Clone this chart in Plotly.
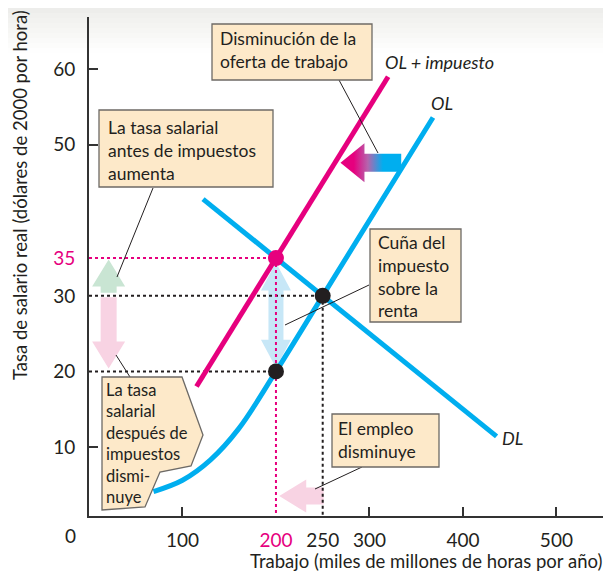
import plotly.graph_objects as go

# ---------------- data ----------------
dl_x = [122, 436]
dl_y = [42.8, 11.4]

ol_x = [69, 100, 130, 160, 200, 250, 368]
ol_y = [4.1, 5.6, 8.3, 12.4, 20, 30, 53.6]

olt_x = [115, 320]
olt_y = [18.0, 59.0]

eq_tax_x, eq_tax_y = 200, 35      # precio con impuesto
eq_x, eq_y = 250, 30              # equilibrio inicial
after_x, after_y = 200, 20        # salario después de impuestos

x_tickvals = [100, 200, 250, 300, 400, 500]
x_ticktext = ["100", "<span style='color:#e6007e'>200</span>", "250", "300", "400", "500"]
y_tickvals = [10, 20, 30, 35, 50, 60]
y_ticktext = ["10", "20", "30", "<span style='color:#e6007e'>35</span>", "50", "60"]
x_minor_ticks = [100, 300, 400, 500]
y_minor_ticks = [10, 50, 60]

# ---------------- geometry helpers (screen pixels) ----------------
OFF = 8                      # page body margin
SW, SH = 611, 574
L, R, T, B = 89, 605, 17, 516
W, H = SW - OFF, SH - OFF
XMIN, XMAX = 0, 552
YMIN, YMAX = 0.87, 66.9

def dx(px):
    return XMIN + (px - L) / (R - L) * (XMAX - XMIN)

def dy(py):
    return YMIN + (B - py) / (B - T) * (YMAX - YMIN)

def tpx(x):
    return L + (x - XMIN) / (XMAX - XMIN) * (R - L)

def tpy(y):
    return B - (y - YMIN) / (YMAX - YMIN) * (B - T)

def paperx(px):
    return (px - L) / (R - L)

def papery(py):
    return (B - py) / (B - T)

CYAN = "#00aeef"
MAG = "#e6007e"
INK = "#231f20"
BOX = "#fde9c9"
BORDER = "#6d6a66"
FONT = "Lato"

def fat_arrow(x0, y0, x1, y1, shaft, headw, headlen, double=False):
    ax, ay = tpx(x0), tpy(y0)
    bx, by = tpx(x1), tpy(y1)
    vx, vy = bx - ax, by - ay
    ln = (vx ** 2 + vy ** 2) ** 0.5
    ux, uy = vx / ln, vy / ln
    nx, ny = -uy, ux
    s, h = shaft / 2, headw / 2
    hb = (bx - ux * headlen, by - uy * headlen)
    if double:
        ha = (ax + ux * headlen, ay + uy * headlen)
        pts = [
            (ax, ay),
            (ha[0] + nx * h, ha[1] + ny * h),
            (ha[0] + nx * s, ha[1] + ny * s),
            (hb[0] + nx * s, hb[1] + ny * s),
            (hb[0] + nx * h, hb[1] + ny * h),
            (bx, by),
            (hb[0] - nx * h, hb[1] - ny * h),
            (hb[0] - nx * s, hb[1] - ny * s),
            (ha[0] - nx * s, ha[1] - ny * s),
            (ha[0] - nx * h, ha[1] - ny * h),
            (ax, ay),
        ]
    else:
        pts = [
            (ax + nx * s, ay + ny * s),
            (hb[0] + nx * s, hb[1] + ny * s),
            (hb[0] + nx * h, hb[1] + ny * h),
            (bx, by),
            (hb[0] - nx * h, hb[1] - ny * h),
            (hb[0] - nx * s, hb[1] - ny * s),
            (ax - nx * s, ay - ny * s),
            (ax + nx * s, ay + ny * s),
        ]
    return [dx(p[0]) for p in pts], [dy(p[1]) for p in pts]

fig = go.Figure()

def add_poly(xs, ys, color):
    fig.add_trace(go.Scatter(x=xs, y=ys, mode="lines", fill="toself",
                             fillcolor=color, line=dict(width=0, color=color),
                             hoverinfo="skip", showlegend=False))

# ---------------- fat arrows (behind) ----------------
add_poly(*fat_arrow(21, 30.4, 21, 34.8, 16, 33, 27), "#c9e5d3")
add_poly(*fat_arrow(21, 29.8, 21, 20.4, 16, 33, 27), "#f8d3e3")
add_poly(*fat_arrow(eq_tax_x, 20.5, eq_tax_x, 34.4, 15, 30, 28, double=True), "#c7e7f7")
add_poly(*fat_arrow(251, 3.5, 203.5, 3.5, 17, 33, 27), "#f8d3e3")
gx, gy = fat_arrow(334, 47.6, 269, 47.6, 18, 39, 24)
fig.add_trace(go.Scatter(x=gx, y=gy, mode="lines", fill="toself",
                         line=dict(width=0, color=CYAN),
                         fillgradient=dict(type="horizontal",
                                           colorscale=[[0, MAG], [0.22, MAG], [0.45, "#b565ad"],
                                                       [0.7, CYAN], [1, CYAN]]),
                         hoverinfo="skip", showlegend=False))

# ---------------- dotted guide lines ----------------
def dotted(xs, ys, color):
    fig.add_trace(go.Scatter(x=xs, y=ys, mode="lines",
                             line=dict(color=color, width=2, dash="dot"),
                             hoverinfo="skip", showlegend=False))

dotted([XMIN, eq_x], [eq_y, eq_y], INK)
dotted([XMIN, after_x], [after_y, after_y], INK)
dotted([eq_x, eq_x], [eq_y, YMIN], INK)
dotted([XMIN, eq_tax_x], [eq_tax_y, eq_tax_y], MAG)
dotted([eq_tax_x, eq_tax_x], [eq_tax_y, YMIN], MAG)

# ---------------- curves ----------------
fig.add_trace(go.Scatter(x=dl_x, y=dl_y, mode="lines", line=dict(color=CYAN, width=5),
                         showlegend=False, name="DL"))
fig.add_trace(go.Scatter(x=ol_x, y=ol_y, mode="lines",
                         line=dict(color=CYAN, width=5, shape="spline", smoothing=1.0),
                         showlegend=False, name="OL"))
fig.add_trace(go.Scatter(x=olt_x, y=olt_y, mode="lines", line=dict(color=MAG, width=5),
                         showlegend=False, name="OL + impuesto"))

# ---------------- points ----------------
fig.add_trace(go.Scatter(x=[eq_x, after_x], y=[eq_y, after_y], mode="markers",
                         marker=dict(color=INK, size=16), showlegend=False))
fig.add_trace(go.Scatter(x=[eq_tax_x], y=[eq_tax_y], mode="markers",
                         marker=dict(color=MAG, size=16), showlegend=False))

shapes = []
annotations = []

# ---------------- top background fade ----------------
fade = ["#ededeb", "#f0f0ee", "#f2f2f0", "#f4f4f2", "#f6f6f4", "#f8f8f6", "#fafaf9", "#fcfcfb", "#fefefe"]
for i, c in enumerate(fade):
    y0p, y1p = OFF + i * 5, OFF + (i + 1) * 5
    shapes.append(dict(type="rect", xref="paper", yref="paper", x0=-0.2, x1=1.1,
                       y0=papery(y1p), y1=papery(y0p),
                       fillcolor=c, line=dict(width=0), layer="below"))

# ---------------- callout boxes ----------------
def box(x0p, y0p, x1p, y1p):
    shapes.append(dict(type="rect", xref="x", yref="y", x0=dx(x0p), x1=dx(x1p),
                       y0=dy(y1p), y1=dy(y0p), fillcolor=BOX,
                       line=dict(color=BORDER, width=1.3), layer="above"))

def leader(x0p, y0p, x1p, y1p):
    shapes.append(dict(type="line", xref="x", yref="y", x0=dx(x0p), y0=dy(y0p),
                       x1=dx(x1p), y1=dy(y1p), line=dict(color=INK, width=1), layer="above"))

def text(xp, yp, s, size=17.5, italic=False):
    annotations.append(dict(x=dx(xp), y=dy(yp), xref="x", yref="y", text=s,
                            showarrow=False, xanchor="left", yanchor="top", align="left",
                            borderpad=0,
                            font=dict(family=FONT, size=size, color=INK,
                                      style="italic" if italic else "normal")))

leader(339, 80, 378, 153)
leader(153, 188, 117, 277)
leader(369, 285, 285, 325)
leader(362, 467, 315, 489)
leader(130, 377, 116, 355)

box(212, 24, 372, 80)
text(219, 27, "Disminución de la<br>oferta de trabajo")

box(99, 110, 273, 187)
text(107, 116, "La tasa salarial<br>antes de impuestos<br>aumenta")

box(370, 229, 461, 322)
text(377, 231, "Cuña del<br>impuesto<br>sobre la<br>renta")

box(332, 414, 439, 467)
text(337, 417, "El empleo<br>disminuye")

pent = [(102, 377), (182, 377), (203, 435), (191, 466), (160, 472), (145, 507), (102, 510)]
path = "M " + " L ".join(f"{dx(a)},{dy(b)}" for a, b in pent) + " Z"
shapes.append(dict(type="path", xref="x", yref="y", path=path, fillcolor=BOX,
                   line=dict(color=BORDER, width=1.3), layer="above"))
text(105, 379, "La tasa<br>salarial<br>después de<br>impuestos<br>dismi-<br>nuye", size=16.5)

# curve labels
text(384, 50, "OL + impuesto", size=18, italic=True)
text(430, 91, "OL", size=18, italic=True)
text(501, 426, "DL", size=18, italic=True)

# origin label and axis titles
annotations.append(dict(x=paperx(70), y=papery(535), xref="paper", yref="paper", text="0",
                        showarrow=False, xanchor="center", yanchor="middle",
                        font=dict(family=FONT, size=19, color=INK)))
annotations.append(dict(x=paperx(604), y=papery(561), xref="paper", yref="paper",
                        text="Trabajo (miles de millones de horas por año)", showarrow=False,
                        xanchor="right", yanchor="middle",
                        font=dict(family=FONT, size=18.5, color=INK)))
annotations.append(dict(x=paperx(20), y=papery(195), xref="paper", yref="paper",
                        text="Tasa de salario real (dólares de 2000 por hora)", showarrow=False,
                        textangle=-90, xanchor="center", yanchor="middle",
                        font=dict(family=FONT, size=18.5, color=INK)))

fig.update_layout(
    width=W, height=H,
    margin=dict(l=L - OFF, r=SW - R, t=T - OFF, b=SH - B),
    paper_bgcolor="white", plot_bgcolor="rgba(0,0,0,0)",
    shapes=shapes, annotations=annotations,
    font=dict(family=FONT, color=INK),
    xaxis=dict(range=[XMIN, XMAX], showgrid=False, zeroline=False,
               showline=True, linecolor="#333333", linewidth=2,
               tickmode="array", tickvals=x_tickvals, ticktext=x_ticktext,
               ticks="", ticklabelstandoff=6, tickfont=dict(size=19, color=INK),
               minor=dict(tickmode="array", tickvals=x_minor_ticks, ticks="inside",
                          ticklen=9, tickwidth=1.5, tickcolor="#333333", showgrid=False)),
    yaxis=dict(range=[YMIN, YMAX], showgrid=False, zeroline=False,
               showline=True, linecolor="#333333", linewidth=2,
               tickmode="array", tickvals=y_tickvals, ticktext=y_ticktext,
               ticks="", ticklabelstandoff=8, tickfont=dict(size=19, color=INK),
               minor=dict(tickmode="array", tickvals=y_minor_ticks, ticks="inside",
                          ticklen=9, tickwidth=1.5, tickcolor="#333333", showgrid=False)),
)

fig.write_html("out.html")
